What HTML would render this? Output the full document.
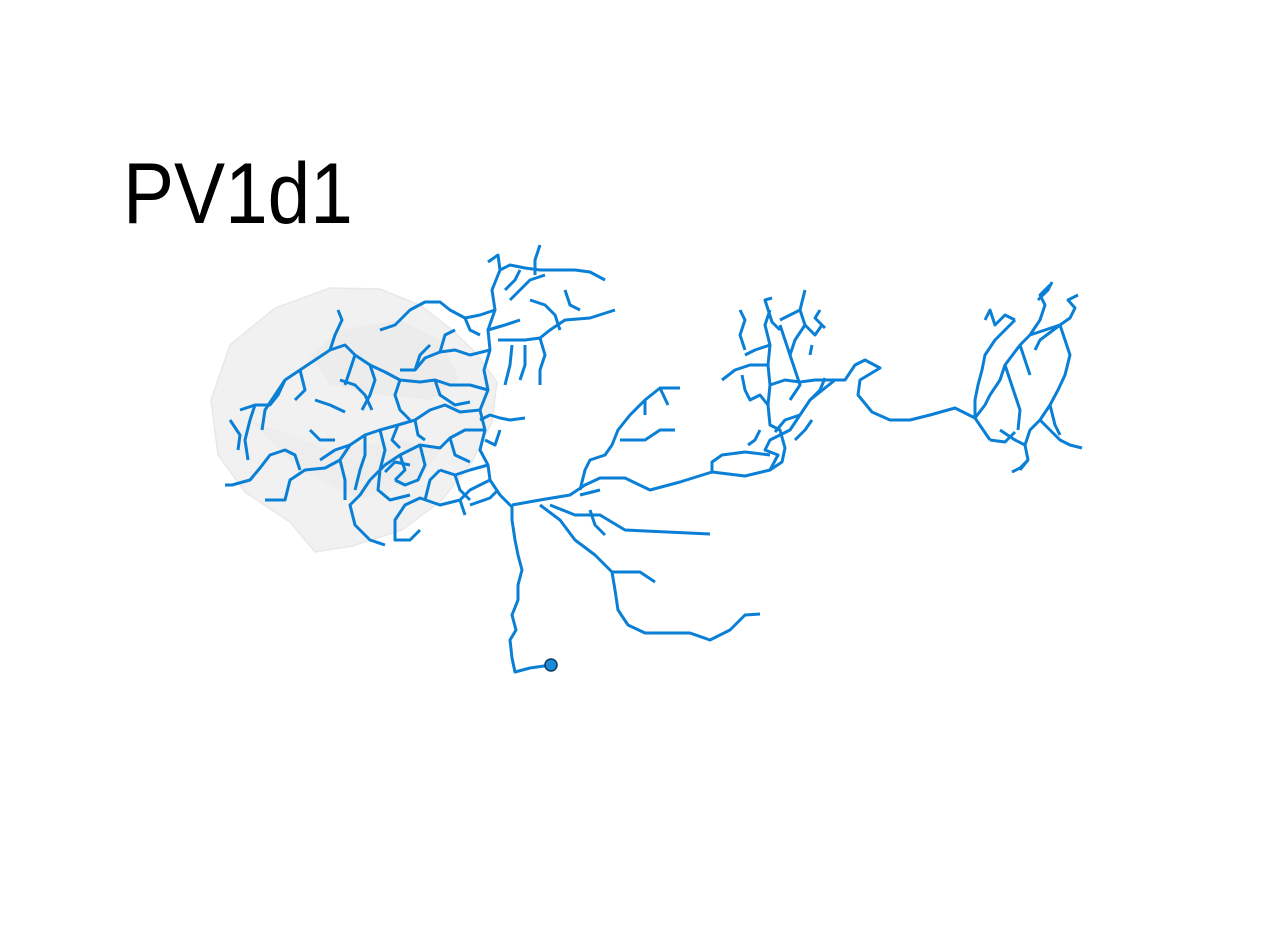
<!DOCTYPE html>
<html><head><meta charset="utf-8"><style>
html,body{margin:0;padding:0;background:#fff;width:1264px;height:926px;overflow:hidden}
svg{display:block}
text{font-family:"Liberation Sans",sans-serif}
</style></head><body>
<svg width="1264" height="926" viewBox="0 0 1264 926">
<g>
<path d="M315,552 L290,522 L245,492 L218,455 L211,400 L230,345 L275,308 L330,288 L380,289 L420,305 L452,330 L475,352 L497,382 L492,422 L472,462 L442,500 L402,530 L352,546 Z" fill="#f0f0f0" stroke="#e6e6e6" stroke-width="1.5" opacity="0.9"/>
<path d="M310,355 L340,330 L400,320 L440,340 L460,380 L430,400 L380,395 L330,385 Z" fill="#e9e9e9" opacity="0.6"/>
<path d="M250,420 L300,470 L360,500 L420,480 L440,450 L400,440 L330,450 Z" fill="#eaeaea" opacity="0.5"/>
</g>
<text x="123" y="223" font-size="86" fill="#000" transform="translate(123 0) scale(0.89 1) translate(-123 0)">PV1d1</text>
<g id="skel" fill="none" stroke="#0a7fd6" stroke-width="3" stroke-linejoin="round" stroke-linecap="butt"></g>
<circle cx="551" cy="665" r="6" fill="#1a8ad8" stroke="#0a3a60" stroke-width="1.5"/>
<script>
const segments = [
"551,665 530,668 515,672 512,658 510,640 516,630 512,615 518,600 518,585 522,570 518,555 515,540 512,520 512,507 500,495 490,480 488,465 480,450 485,430 480,410 488,390 484,370 490,350 488,330 495,310 492,290 500,270 498,255 488,262",
"512,505 540,500 570,495 585,485 600,478 625,478 650,490 680,482 712,472 745,476 770,470 778,455 765,450 770,440 790,430 800,415 810,400 835,380 845,380 855,365 865,360 880,368 860,380 858,395 872,412 890,420 910,420 930,415 955,408 975,418 990,440",
"540,505 560,520 575,540 595,555 612,572 615,590 618,610 628,625 645,633 690,633 710,640 730,630 745,615 760,614",
"550,505 575,515 600,515 625,530 710,534",
"580,490 585,470 590,460 605,455 612,445 618,430 630,415 645,400 660,388 680,388",
"620,440 645,440 660,430 675,430","645,400 645,415","660,388 668,405",
"712,472 712,462 722,455 745,452 770,455",
"580,495 600,490","590,510 595,525 605,535","612,572 640,572 655,582",
"488,465 470,470 455,475 440,470","490,480 470,490 460,500 440,505 420,498 405,505 395,520 395,540 410,540 420,530",
"485,430 465,430 450,438 440,448 420,445 400,455 385,465 370,480 360,495 350,505 355,525 370,540 385,545",
"480,410 460,412 445,405 430,410 415,420 398,425 380,430 365,435 350,445 340,460 325,468 305,470 290,480 285,500 265,500",
"488,390 470,385 450,385 435,380 420,382 400,380 385,372 370,365 355,355 345,345 330,350 315,360 300,370 285,380 278,395 270,405 255,405 240,410",
"490,350 470,355 455,350 440,352 425,358 415,370 400,370",
"495,310 480,315 465,318 450,310 440,302 425,302 410,310 395,325 380,330",
"500,270 510,265 525,268 540,270 555,270 575,270 590,272 605,280",
"505,290 515,280 520,270","510,300 520,290 530,280 545,275",
"498,340 510,340 525,340 540,338 550,330 565,320 590,318 615,310",
"488,330 505,325 520,320","540,338 545,355 540,370 540,385",
"512,345 510,365 505,385","525,345 525,365 520,380",
"530,300 545,305 555,315 560,330","565,290 570,305 580,310","540,245 535,260 535,275",
"380,430 385,450 380,470 378,490 390,500 410,495",
"365,435 365,455 360,470 355,490","350,445 335,450 320,460","340,460 345,480 345,500",
"300,470 295,455 285,450 270,455 260,468 250,480 232,485 225,485",
"255,405 250,420 245,440 248,460","285,380 275,395 265,410 262,430",
"420,445 425,465 418,480 405,485 395,480","400,455 405,470 395,480",
"440,470 430,480 425,500","450,438 455,455 470,462",
"435,380 440,395 455,405 470,402","400,380 395,395 400,410 410,420",
"415,370 420,355 430,345","370,365 375,380 370,395 362,410",
"355,355 350,370 345,385","330,350 335,335 342,320 338,310",
"440,352 445,335 455,330","465,318 470,330 480,335",
"455,475 460,490 470,500","460,500 465,515",
"470,505 490,498 498,490",
"385,472 395,462 410,465","398,425 392,440 400,448","415,420 418,435 425,440",
"340,380 355,385 365,395 372,410","315,400 330,405 345,412",
"300,370 305,390 295,400","310,430 320,440 335,440","230,420 240,435 238,450",
"480,420 490,415 500,418 510,420 525,418","485,440 495,445 500,430",
"770,470 782,462 785,448 780,430 770,425 768,405 770,385 768,365 770,345 765,325 770,310",
"770,385 785,380 800,382 815,380 835,380","790,400 800,385 795,370 790,355 785,340 780,325",
"800,415 785,420 775,432","810,400 820,390 825,378",
"768,405 760,395 750,400 745,390 742,375","768,365 750,365 735,370 722,380",
"745,350 740,335 745,320 740,310","770,345 755,350 745,355",
"790,355 795,340 805,325 800,310 805,290","805,325 815,335 822,325","800,310 790,315 780,320",
"810,355 812,345","780,330 772,322 765,300 772,298",
"820,310 815,318 825,328","760,430 755,440 748,445","795,440 805,430 812,420",
"975,418 985,405 990,395 1000,380 1005,365 1020,345 1030,335 1045,330 1060,325 1070,318 1075,308 1068,300 1078,295",
"975,418 975,400 978,385 982,370 985,355 995,340 1005,330 1015,320",
"1030,335 1040,320 1045,305 1040,295 1050,285",
"1060,325 1065,340 1070,355 1065,375 1058,390 1050,405 1040,420 1030,430 1025,445 1028,460 1020,470",
"1040,420 1050,430 1060,440 1070,445 1082,448","1050,405 1055,425 1060,435",
"1005,365 1010,380 1015,395 1020,410 1018,430","990,440 1005,442 1015,432",
"1020,345 1025,360 1030,375","1015,320 1005,315 995,325 990,310 985,320",
"1060,325 1040,340 1035,350","1025,445 1015,440 1000,430",
"1028,460 1020,468 1012,472","1038,300 1048,290 1052,282"
];
const g = document.getElementById('skel');
for (const s of segments) {
  const p = document.createElementNS('http://www.w3.org/2000/svg','polyline');
  p.setAttribute('points', s);
  
  
  g.appendChild(p);
}
</script>
</svg>
</body></html>
